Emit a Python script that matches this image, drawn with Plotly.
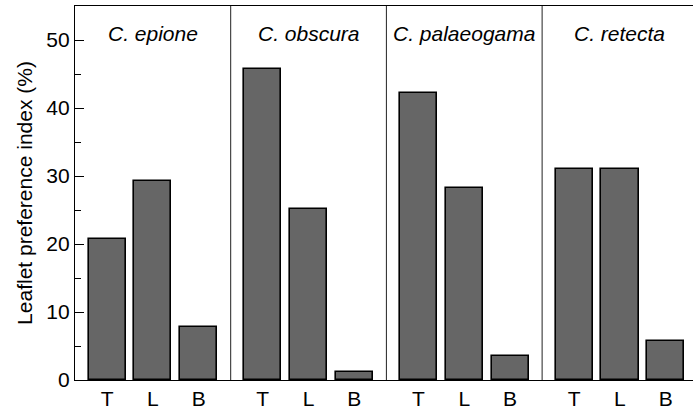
import plotly.graph_objects as go

# Leaflet preference index (%) per species and leaflet position
species = ["C. epione", "C. obscura", "C. palaeogama", "C. retecta"]
positions = ["T", "L", "B"]
values = {
    "C. epione": [20.8, 29.2, 7.8],
    "C. obscura": [45.8, 25.1, 1.2],
    "C. palaeogama": [42.2, 28.2, 3.5],
    "C. retecta": [31.0, 31.0, 5.8],
}

PANEL_STEP = 3.4      # distance between panel centres in x units
HALF = PANEL_STEP / 2
FONT = "Liberation Sans, Arial, Helvetica, sans-serif"
FS = 21

xs, ys, tickvals, ticktext = [], [], [], []
for i, sp in enumerate(species):
    for j, pos in enumerate(positions):
        x = i * PANEL_STEP + (j - 1)
        xs.append(x)
        ys.append(values[sp][j])
        tickvals.append(x)
        ticktext.append(pos)

fig = go.Figure()
fig.add_trace(go.Bar(
    x=xs, y=ys, width=0.81,
    marker=dict(color="#666666", line=dict(color="#000000", width=1.6)),
    showlegend=False, hoverinfo="y",
))

# panel dividers
for i in range(1, len(species)):
    fig.add_shape(type="line", xref="x", yref="paper",
                  x0=i * PANEL_STEP - HALF, x1=i * PANEL_STEP - HALF, y0=0, y1=1,
                  line=dict(color="#222222", width=1))

# species labels
for i, sp in enumerate(species):
    fig.add_annotation(x=i * PANEL_STEP, y=51.0, xref="x", yref="y",
                       text=f"<i>{sp}</i>", showarrow=False,
                       font=dict(family=FONT, size=FS, color="#000000"),
                       yanchor="middle", xanchor="center")

fig.update_layout(
    width=693, height=410,
    margin=dict(l=75, r=0, t=6, b=30),
    plot_bgcolor="white", paper_bgcolor="white",
    font=dict(family=FONT, size=FS, color="#000000"),
    bargap=0,
)
fig.update_xaxes(
    range=[-HALF, 11.795],
    tickvals=tickvals, ticktext=ticktext,
    showline=True, linecolor="#000000", linewidth=1.3, mirror=True,
    ticks="", showgrid=False, zeroline=False,
    tickfont=dict(size=FS), automargin=False,
)
fig.update_yaxes(
    range=[0, 55],
    tickvals=[0, 10, 20, 30, 40, 50],
    ticks="inside", ticklen=9, tickwidth=1.2, tickcolor="#000000",
    minor=dict(tickvals=[5, 15, 25, 35, 45], ticks="inside", ticklen=6,
               tickwidth=1.2, tickcolor="#000000"),
    showline=True, linecolor="#000000", linewidth=1.3,
    showgrid=False, zeroline=False, automargin=False,
    tickfont=dict(size=FS),
    title=dict(text="Leaflet preference index (%)", font=dict(size=FS), standoff=7),
)

fig.write_html("out.html")
